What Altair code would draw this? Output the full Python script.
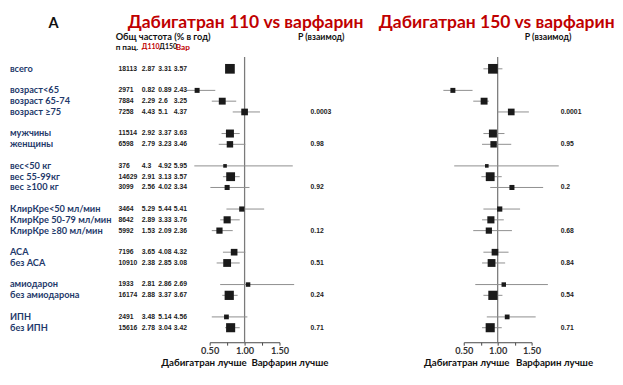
import altair as alt
import pandas as pd

# ---------------- data ----------------
labels = ["всего", "возраст<65", "возраст 65-74", "возраст ≥75", "мужчины", "женщины",
          "вес<50 кг", "вес 55-99кг", "вес ≥100 кг",
          "КлирКре<50 мл/мин", "КлирКре 50-79 мл/мин", "КлирКре ≥80 мл/мин",
          "АСА", "без АСА", "амиодарон", "без амиодарона", "ИПН", "без ИПН"]
rows = [0, 2, 3, 4, 6, 7, 9, 10, 11, 13, 14, 15, 17, 18, 20, 21, 23, 24]
n_pat = [18113, 2971, 7884, 7258, 11514, 6598, 376, 14629, 3099,
         3464, 8642, 5992, 7196, 10910, 1933, 16174, 2491, 15616]
rate_d110 = ["2.87", "0.82", "2.29", "4.43", "2.92", "2.79", "4.3", "2.91", "2.56",
             "5.29", "2.89", "1.53", "3.65", "2.38", "2.81", "2.88", "3.48", "2.78"]
rate_d150 = ["3.31", "0.89", "2.6", "5.1", "3.37", "3.23", "4.92", "3.13", "4.02",
             "5.44", "3.33", "2.09", "4.08", "2.85", "2.86", "3.37", "5.14", "3.04"]
rate_war = ["3.57", "2.43", "3.25", "4.37", "3.63", "3.46", "5.95", "3.57", "3.34",
            "5.41", "3.76", "2.36", "4.32", "3.08", "2.69", "3.67", "4.56", "3.42"]

hr110 = [0.79, 0.32, 0.68, 1.00, 0.79, 0.79, 0.72, 0.80, 0.75,
         0.96, 0.75, 0.64, 0.85, 0.75, 1.05, 0.78, 0.74, 0.80]
lo110 = [0.75, 0.17, 0.53, 0.83, 0.67, 0.63, 0.28, 0.69, 0.51,
         0.74, 0.65, 0.53, 0.69, 0.60, 0.65, 0.68, 0.53, 0.72]
hi110 = [0.84, 0.58, 0.88, 1.22, 0.93, 1.01, 1.69, 0.93, 1.07,
         1.28, 0.93, 0.83, 1.01, 0.93, 1.71, 0.90, 1.04, 0.93]

hr150 = [0.93, 0.34, 0.80, 1.20, 0.93, 0.94, 0.84, 0.89, 1.21,
         1.03, 0.90, 0.87, 0.96, 0.91, 1.09, 0.93, 1.14, 0.89]
lo150 = [0.79, 0.20, 0.64, 1.00, 0.79, 0.77, 0.36, 0.76, 0.89,
         0.79, 0.77, 0.64, 0.79, 0.77, 0.67, 0.79, 0.84, 0.77]
hi150 = [1.07, 0.63, 0.87, 1.46, 1.10, 1.20, 1.90, 1.06, 1.67,
         1.33, 1.09, 1.21, 1.16, 1.11, 1.74, 1.07, 1.56, 1.06]

p_rows = [4, 7, 11, 15, 18, 21, 24]
p_d110 = ["0.0003", "0.98", "0.92", "0.12", "0.51", "0.24", "0.71"]
p_d150 = ["0.0001", "0.95", "0.2", "0.68", "0.84", "0.54", "0.71"]

axis_ticks = [0.5, 0.75, 1.0, 1.25, 1.5]
ref_value = [1.0]
ref_span = [-1.1, 25.35]

df = pd.DataFrame({"row": rows, "label": labels, "n": n_pat, "d110": rate_d110,
                   "d150": rate_d150, "war": rate_war,
                   "hr110": hr110, "lo110": lo110, "hi110": hi110,
                   "hr150": hr150, "lo150": lo150, "hi150": hi150})
pdf = pd.DataFrame({"row": p_rows, "p110": p_d110, "p150": p_d150})
refdf = pd.DataFrame({"v": ref_value, "y1": [ref_span[0]], "y2": [ref_span[1]]})

# ---------------- styling ----------------
FONT = "Lato"
NAVY = "#1f3a6b"
RED = "#c00000"
DARK = "#222222"

W_LEFT = 390
W_RIGHT = 217
H = 339

yscale = alt.Scale(domain=[0, 24], range=[57, 324], zero=False, nice=False)


def Y():
    return alt.Y("row:Q", scale=yscale, axis=None)


def xaxis():
    return alt.Axis(values=axis_ticks, orient="bottom", title=None, grid=False,
                    labelExpr="(datum.value == 0.5 || datum.value == 1 || datum.value == 1.5) ? format(datum.value, '.2f') : ''",
                    labelFont=FONT, labelFontWeight="bold", labelFontSize=9.5,
                    labelColor="#333333", domainColor="#444444", tickColor="#444444",
                    tickSize=3, labelPadding=1, labelFlush=False, labelOverlap=False)


size_enc = alt.Size("n:Q", scale=alt.Scale(domain=[0, 18113], range=[12, 100]), legend=None)


def forest(hr, lo, hi, rng):
    sx = alt.Scale(domain=[0.5, 1.5], range=rng, zero=False, nice=False)
    ref = alt.Chart(refdf).mark_rule(color="#7a7a7a", strokeWidth=1.3).encode(
        x=alt.X("v:Q", scale=sx, axis=xaxis()),
        y=alt.Y("y1:Q", scale=yscale, axis=None), y2="y2:Q")
    ci = alt.Chart(df).mark_rule(color="#8c8c8c", strokeWidth=1).encode(
        x=alt.X(f"{lo}:Q", scale=sx, axis=xaxis()), x2=f"{hi}:Q", y=Y())
    sq = alt.Chart(df).mark_square(filled=True, color="#1a1a1a", opacity=1).encode(
        x=alt.X(f"{hr}:Q", scale=sx, axis=xaxis()), y=Y(), size=size_enc)
    return [ref, ci, sq]


def col(field, x, data, size=7.0, color=DARK, font="Liberation Sans"):
    return alt.Chart(data).mark_text(align="left", baseline="middle", font=font,
                                     fontWeight="bold", fontSize=size, color=color).encode(
        x=alt.value(x), y=Y(), text=f"{field}:N")


def txt(s, x, y, size, color="#111111", align="left", font=FONT):
    return alt.Chart(pd.DataFrame({"t": [s]})).mark_text(
        align=align, baseline="middle", font=font, fontWeight="bold",
        fontSize=size, color=color).encode(x=alt.value(x), y=alt.value(y), text="t:N")


left_layers = forest("hr110", "lo110", "hi110", [208, 280]) + [
    col("label", 2, df, size=9.5, color=NAVY, font=FONT),
    col("n", 114, df),
    col("d110", 138, df),
    col("d150", 155, df),
    col("war", 171, df),
    col("p110", 312, pdf),
    txt("A", 47, 10, 15, "#111111", "center"),
    txt("Дабигатран 110 vs варфарин", 245, 10, 18, RED, "center"),
    txt("Общ частота (% в год)", 111, 24, 9.5),
    txt("п пац.", 111, 35, 8.5),
    txt("Д110", 138, 35, 7.2, RED),
    txt("Д150", 156, 35, 7.2),
    txt("Вар", 173, 35, 8.5, RED),
    txt("P (взаимод)", 299, 24, 9),
    txt("Дабигатран лучше", 158, 360, 10),
    txt("Варфарин лучше", 251, 360, 10),
]

R = W_LEFT
right_layers = forest("hr150", "lo150", "hi150", [470 - R, 540 - R]) + [
    col("p150", 570 - R, pdf),
    txt("Дабигатран 150 vs варфарин", 504 - R, 10, 18, RED, "center"),
    txt("P (взаимод)", 533 - R, 24, 9),
    txt("Дабигатран лучше", 429 - R, 360, 10),
    txt("Варфарин лучше", 524 - R, 360, 10),
]

left = alt.layer(*left_layers).properties(width=W_LEFT, height=H)
right = alt.layer(*right_layers).properties(width=W_RIGHT, height=H)

chart = alt.hconcat(left, right, spacing=0, bounds="flush").properties(
    padding={"left": 0, "top": 0, "right": 0, "bottom": 0},
    background="white",
).configure_view(strokeWidth=0)

chart.save("out.html", embed_options={"renderer": "svg", "actions": False})
